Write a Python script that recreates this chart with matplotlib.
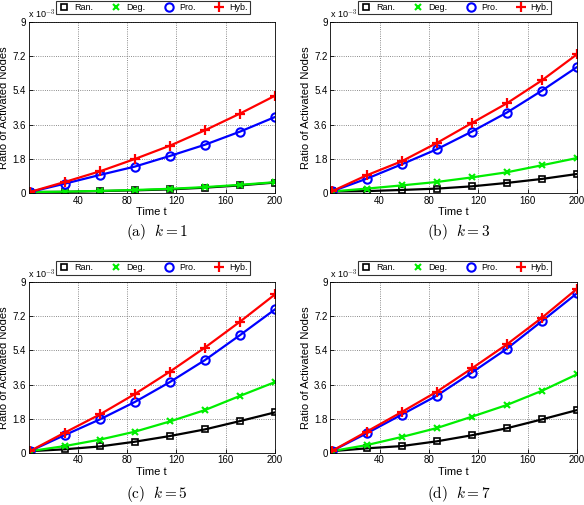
import matplotlib
matplotlib.use("Agg")
import matplotlib.pyplot as plt
import numpy as np

plt.rcParams['font.family'] = ['Liberation Sans', 'DejaVu Sans']
plt.rcParams['mathtext.fontset'] = 'cm'

t = [1, 29.4, 57.9, 86.3, 114.7, 143.1, 171.6, 200]

# values in units of 1e-3
ran = {
    1: [0.05, 0.06, 0.10, 0.14, 0.19, 0.28, 0.40, 0.55],
    3: [0.08, 0.10, 0.16, 0.23, 0.35, 0.53, 0.74, 1.00],
    5: [0.08, 0.18, 0.33, 0.58, 0.88, 1.23, 1.67, 2.13],
    7: [0.08, 0.23, 0.35, 0.60, 0.92, 1.29, 1.76, 2.25],
}
deg = {
    1: [0.05, 0.07, 0.11, 0.16, 0.22, 0.31, 0.43, 0.57],
    3: [0.08, 0.23, 0.40, 0.58, 0.82, 1.09, 1.46, 1.84],
    5: [0.08, 0.35, 0.69, 1.11, 1.65, 2.25, 3.00, 3.73],
    7: [0.08, 0.40, 0.83, 1.30, 1.90, 2.52, 3.27, 4.14],
}
pro = {
    1: [0.05, 0.49, 0.95, 1.39, 1.95, 2.54, 3.23, 4.00],
    3: [0.08, 0.75, 1.51, 2.30, 3.23, 4.23, 5.39, 6.63],
    5: [0.08, 0.93, 1.76, 2.68, 3.73, 4.89, 6.21, 7.57],
    7: [0.08, 1.02, 2.01, 3.01, 4.23, 5.49, 6.95, 8.42],
}
hyb = {
    1: [0.05, 0.58, 1.14, 1.79, 2.49, 3.30, 4.18, 5.12],
    3: [0.08, 0.93, 1.67, 2.63, 3.68, 4.72, 5.93, 7.30],
    5: [0.08, 1.06, 2.02, 3.10, 4.28, 5.55, 6.92, 8.36],
    7: [0.08, 1.11, 2.15, 3.22, 4.45, 5.72, 7.13, 8.66],
}
ks = [1, 3, 5, 7]
captions = ['(a)', '(b)', '(c)', '(d)']
xticks = [40, 80, 120, 160, 200]
yticks = [0, 1.8, 3.6, 5.4, 7.2, 9]
ytick_labels = ['0', '1.8', '3.6', '5.4', '7.2', '9']

W, H = 584, 505
fig = plt.figure(figsize=(W / 100, H / 100), dpi=100)

boxes = [(28.5, 275, 22, 193), (330.3, 577, 22, 193),
         (28.5, 275, 282.3, 452.7), (330.3, 577, 282.3, 452.7)]
cap_y = [232, 232, 494, 494]

for i, k in enumerate(ks):
    l, r, tp, b = boxes[i]
    ax = fig.add_axes([l / W, 1 - b / H, (r - l) / W, (b - tp) / H])
    h1, = ax.plot(t, ran[k], color='black', marker='s', mfc='none', ms=4.2, mew=1.2, lw=1.6, label='Ran.')
    h2, = ax.plot(t, deg[k], color='#00ee00', marker='x', ms=4.2, mew=1.5, lw=1.6, label='Deg.')
    h3, = ax.plot(t, pro[k], color='#0000ff', marker='o', mfc='none', ms=6, mew=1.5, lw=1.6, label='Pro.')
    h4, = ax.plot(t, hyb[k], color='#ff0000', marker='+', ms=6.5, mew=1.6, lw=1.6, label='Hyb.')
    ax.set_xlim(0, 200)
    ax.set_ylim(0, 9)
    ax.set_xticks(xticks)
    ax.set_yticks(yticks)
    ax.set_yticklabels(ytick_labels)
    ax.tick_params(labelsize=7, direction='in', length=3, width=0.6, pad=2)
    ax.grid(True, linestyle=':', color='#666666', linewidth=0.6)
    for s in ax.spines.values():
        s.set_linewidth(0.6)
    ax.set_xlabel('Time t', fontsize=8, labelpad=1)
    ax.set_ylabel('Ratio of Activated Nodes', fontsize=8, labelpad=2)
    ax.text(0.0, 1.008, r'x 10$^{-3}$', transform=ax.transAxes, fontsize=6.5, ha='left', va='bottom')
    leg = ax.legend(handles=[h1, h2, h3, h4], loc='lower center', bbox_to_anchor=(0.505, 1.045),
                    ncol=4, fontsize=6.5, frameon=True, fancybox=False, edgecolor='black',
                    handlelength=1.2, handletextpad=0.5, columnspacing=2.0, borderpad=0.25,
                    borderaxespad=0)
    leg.get_frame().set_linewidth(0.8)
    for lh in leg.legend_handles:
        lh.set_linestyle('none')
    cx = (l + r) / 2 + 5
    fig.text(cx / W, 1 - cap_y[i] / H, r'$\mathrm{%s}\ \ k=%d$' % (captions[i], k), fontsize=11,
             ha='center', va='center')

fig.savefig('out.png', dpi=100)
